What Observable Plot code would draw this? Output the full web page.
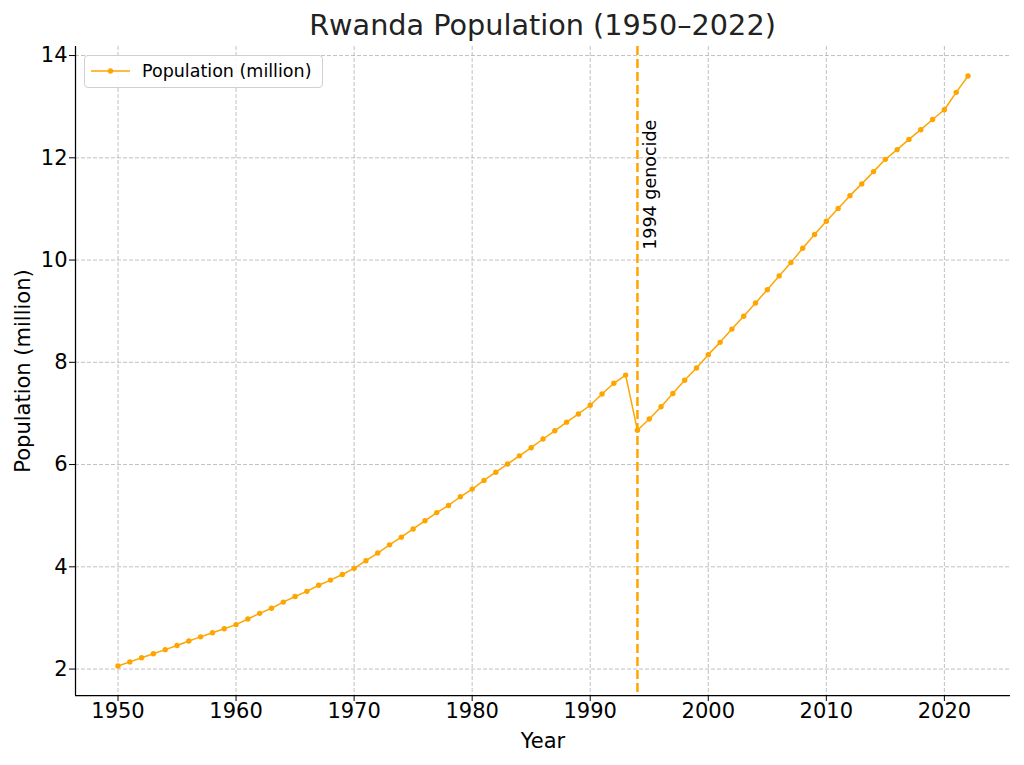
<!DOCTYPE html>
<html>
<head>
<meta charset="utf-8">
<script src="https://cdn.jsdelivr.net/npm/d3@7"></script>
<script src="https://cdn.jsdelivr.net/npm/@observablehq/plot@0.6"></script>
<style>
  html, body { margin: 0; padding: 0; background: #fff; }
  #wrap { position: relative; width: 1024px; height: 765px; font-family: "DejaVu Sans", sans-serif; }
  #title { position: absolute; left: 75px; width: 935px; top: 7px; text-align: center; font-size: 28.7px; color: #222; line-height: 36px; }
  #legend { position: absolute; left: 84px; top: 55px; width: 237px; height: 31px; border: 1px solid #d0d0d0; border-radius: 4px; background: rgba(255,255,255,0.85); }
  #legend svg { position: absolute; left: 0; top: 0; }
  #legend span { position: absolute; left: 57px; top: 4px; font-size: 17.5px; color: #000; line-height: 22px; }
  #chart svg { display: block; }
</style>
</head>
<body>
<div id="wrap">
  <div id="chart"></div>
  <div id="title">Rwanda Population (1950–2022)</div>
  <div id="legend">
    <svg width="60" height="31"><line x1="6" x2="45" y1="15" y2="15" stroke="#FFA500" stroke-width="1.5"></line><circle cx="25.5" cy="15" r="2.7" fill="#FFA500"></circle></svg>
    <span>Population (million)</span>
  </div>
</div>
<script>
const years = [1950,1951,1952,1953,1954,1955,1956,1957,1958,1959,
  1960,1961,1962,1963,1964,1965,1966,1967,1968,1969,
  1970,1971,1972,1973,1974,1975,1976,1977,1978,1979,
  1980,1981,1982,1983,1984,1985,1986,1987,1988,1989,
  1990,1991,1992,1993,1994,1995,1996,1997,1998,1999,
  2000,2001,2002,2003,2004,2005,2006,2007,2008,2009,
  2010,2011,2012,2013,2014,2015,2016,2017,2018,2019,
  2020,2021,2022];
const population = [2.06,2.14,2.22,2.30,2.38,2.46,2.55,2.63,2.71,2.79,
  2.87,2.98,3.09,3.19,3.31,3.42,3.52,3.64,3.74,3.85,
  3.97,4.12,4.27,4.43,4.58,4.74,4.90,5.06,5.20,5.37,
  5.52,5.69,5.85,6.01,6.17,6.33,6.50,6.66,6.83,6.99,
  7.16,7.38,7.59,7.75,6.67,6.89,7.13,7.39,7.65,7.89,
  8.15,8.39,8.65,8.90,9.16,9.42,9.69,9.95,10.23,10.50,
  10.76,11.01,11.26,11.49,11.73,11.97,12.16,12.36,12.55,12.75,
  12.94,13.28,13.60];
const xTicks = [1950,1960,1970,1980,1990,2000,2010,2020];
const yTicks = [2,4,6,8,10,12,14];
const eventYear = [1994];
const eventLabel = ["1994 genocide"];

const data = years.map((y, i) => ({year: y, pop: population[i]}));
const orange = "#FFA500";

const [xmin, xmax] = d3.extent(years);
const [ymin, ymax] = d3.extent(population);
const xpad = (xmax - xmin) * 0.05, ypad = (ymax - ymin) * 0.05;
const xDomain = [xmin - xpad, xmax + xpad];
const yDomain = [ymin - ypad, ymax + ypad];
const annot = [{x: eventYear[0] + 0.5, y: ymax * 0.75, t: eventLabel[0]}];

const chart = Plot.plot({
  width: 1024,
  height: 765,
  marginTop: 46,
  marginBottom: 70,
  marginLeft: 75,
  marginRight: 14,
  style: {fontFamily: "DejaVu Sans, sans-serif", background: "#fff", color: "#000"},
  x: {domain: xDomain, ticks: xTicks, tickFormat: d => String(d)},
  y: {domain: yDomain, ticks: yTicks, tickFormat: d => String(d)},
  marks: [
    Plot.gridX(xTicks, {stroke: "#b0b0b0", strokeOpacity: 1, strokeWidth: 0.8, strokeDasharray: "4,2"}),
    Plot.gridY(yTicks, {stroke: "#b0b0b0", strokeOpacity: 1, strokeWidth: 0.8, strokeDasharray: "4,2"}),
    Plot.ruleX(eventYear, {stroke: orange, strokeWidth: 2.5, strokeDasharray: "9,4"}),
    Plot.line(data, {x: "year", y: "pop", stroke: orange, strokeWidth: 1.5}),
    Plot.dot(data, {x: "year", y: "pop", fill: orange, r: 2.7}),
    Plot.text(annot, {x: "x", y: "y", text: "t", rotate: -90, textAnchor: "start", lineAnchor: "top", fontSize: 17.5, fill: "#000"}),
    Plot.ruleY([yDomain[0]], {stroke: "#000", strokeWidth: 1.25}),
    Plot.ruleX([xDomain[0]], {stroke: "#000", strokeWidth: 1.25}),
    Plot.axisX(xTicks, {tickSize: 6, tickPadding: 2, fontSize: 21, label: "Year", labelAnchor: "center", labelArrow: "none", labelOffset: 52, tickFormat: d => String(d)}),
    Plot.axisY(yTicks, {tickSize: 6, tickPadding: 2, fontSize: 21, label: "Population (million)", labelAnchor: "center", labelArrow: "none", labelOffset: 60, tickFormat: d => String(d)})
  ]
});
document.getElementById("chart").appendChild(chart);
</script>
</body>
</html>
